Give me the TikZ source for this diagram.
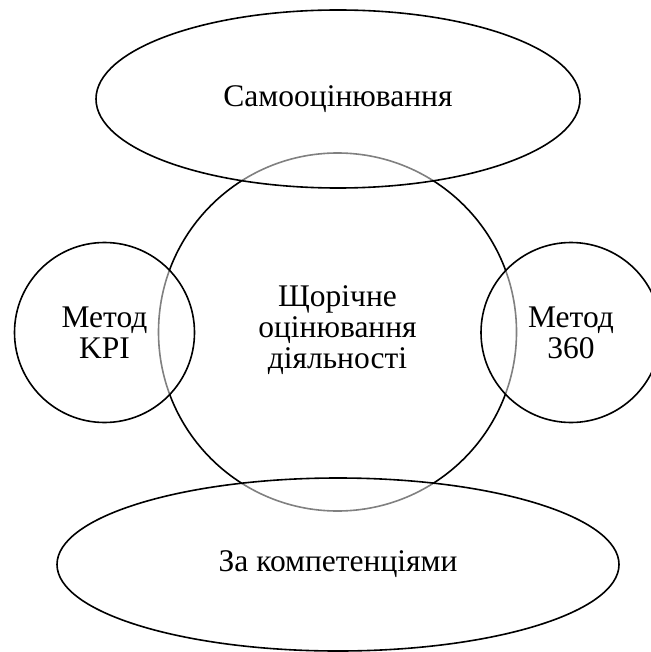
\documentclass[tikz,border=0pt]{standalone}
\usepackage{fontspec}
\setmainfont{Liberation Serif}
\usetikzlibrary{shapes.geometric}
\begin{document}
\begin{tikzpicture}[x=1pt,y=-1pt,
  txt/.style={font=\fontsize{31.5}{31}\selectfont, align=center, text=black},
  shapeline/.style={draw=black, line width=1.6pt},
  overlay50/.style={shapeline, fill=white, fill opacity=0.5, text opacity=1, draw opacity=1},
  oval/.style={ellipse, inner sep=0pt}]
\useasboundingbox (0,0) rectangle (650,652);
% big central circle (drawn first, shows grey through the others)
\node[shapeline, circle, inner sep=0pt, minimum size=358pt] (center) at (337.5,332) {};
% overlapping shapes
\node[overlay50, oval, minimum width=484pt, minimum height=178pt, txt] (top) at (338,99) {Самооцінювання};
\node[overlay50, oval, minimum width=562pt, minimum height=173pt, txt] (bottom) at (338,564.5) {За компетенціями};
\node[overlay50, circle, inner sep=0pt, minimum size=180pt, txt] (left) at (104.5,332.5) {Метод\\KPI};
\node[overlay50, circle, inner sep=0pt, minimum size=180pt, txt] (right) at (571,332.5) {Метод\\360};
% central text
\node[txt] (ctext) at (337.5,330) {Щорічне\\оцінювання\\діяльності};
\end{tikzpicture}
\end{document}
